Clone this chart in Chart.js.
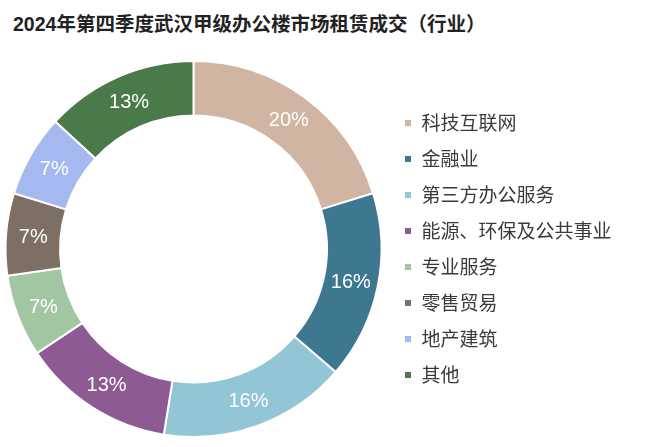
<!DOCTYPE html>
<html>
<head>
<meta charset="utf-8">
<script src="https://cdn.jsdelivr.net/npm/chart.js@4"></script>
<style>
    html, body { margin: 0; padding: 0; background: #fff; }
    #wrap { position: relative; width: 650px; height: 447px; }
    #title {
        position: absolute; left: 13px; top: 12px;
        font: bold 19.5px "Liberation Sans", "Noto Sans CJK SC", sans-serif;
        line-height: 24px; color: #222; white-space: nowrap;
    }
    canvas { position: absolute; left: 0; top: 0; }
</style>
</head>
<body>
<div id="wrap">
    <div id="title">2024年第四季度武汉甲级办公楼市场租赁成交（行业）</div>
    <canvas id="industry-chart" width="650" height="447"></canvas>
</div>
<script>
const categories = ['科技互联网', '金融业', '第三方办公服务', '能源、环保及公共事业', '专业服务', '零售贸易', '地产建筑', '其他'];
const shares = [20, 16, 16, 13, 7, 7, 7, 13];
const colors = ['#CFB5A2', '#3E7890', '#92C5D6', '#8D5A94', '#A2C6A2', '#7D6F63', '#A6B8F0', '#4B7A4A'];

// percent labels in the middle of each ring segment
const sliceLabels = {
    id: 'sliceLabels',
    afterDatasetsDraw(chart) {
        const ctx = chart.ctx;
        const meta = chart.getDatasetMeta(0);
        ctx.save();
        ctx.font = '20px "Liberation Sans", Arial, sans-serif';
        ctx.fillStyle = '#ffffff';
        ctx.textAlign = 'center';
        ctx.textBaseline = 'middle';
        meta.data.forEach((arc, i) => {
            const pos = arc.tooltipPosition();
            ctx.fillText(shares[i] + '%', pos.x, pos.y + 1);
        });
        ctx.restore();
    }
};

const ctx = document.getElementById('industry-chart').getContext('2d');
new Chart(ctx, {
    type: 'doughnut',
    data: {
        labels: categories,
        datasets: [{
            data: shares,
            backgroundColor: colors,
            borderColor: '#ffffff',
            borderWidth: 2,
            radius: 188,
            cutout: '71%',
            clip: false
        }]
    },
    options: {
        responsive: false,
        animation: false,
        layout: { padding: { left: 0, right: 28.5, top: 60, bottom: 9 } },
        plugins: {
            tooltip: { enabled: false },
            legend: {
                position: 'right',
                labels: {
                    boxWidth: 8,
                    boxHeight: 8,
                    padding: 17,
                    color: '#3a3a3a',
                    font: { size: 19, family: '"Noto Sans CJK SC", sans-serif' }
                }
            }
        }
    },
    plugins: [sliceLabels]
});
</script>
</body>
</html>
